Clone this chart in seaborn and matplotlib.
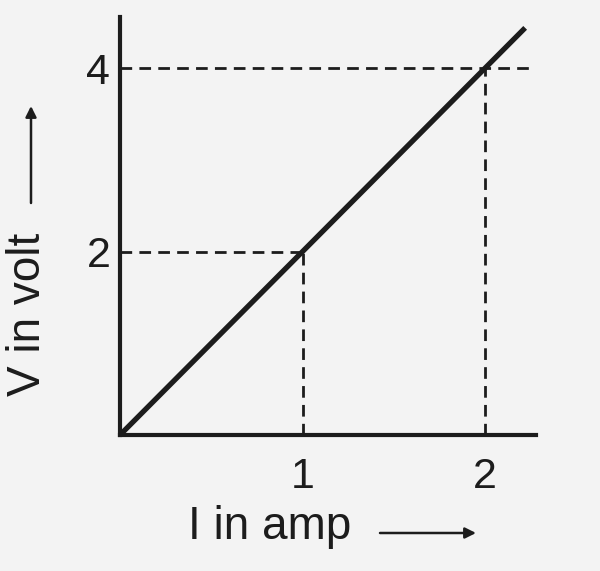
import matplotlib
matplotlib.use("Agg")
import matplotlib.pyplot as plt
import seaborn as sns
import pandas as pd

# ---- data ----
current_amp = [0, 1, 2, 2.22]
voltage_volt = [0, 2, 4, 4.44]
marked_I = [1, 2]
marked_V = [2, 4]
x_ticks = [1, 2]
x_tick_labels = ["1", "2"]
y_ticks = [2, 4]
y_tick_labels = ["2", "4"]
x_label = "I in amp"
y_label = "V in volt"

sns.set_theme(style="white")
plt.rcParams["font.family"] = ["Liberation Sans", "DejaVu Sans"]

W, H = 600, 571
fig = plt.figure(figsize=(W / 100, H / 100), dpi=100, facecolor="#f3f3f3")
ax = fig.add_axes([0, 0, 1, 1])
ax.set_facecolor("none")

# pixel mapping: x=0 at px 120, 182.5 px/unit ; y=0 at px 435 (from top), 91.7 px/unit
x0, sx = 120, 182.5
y0, sy = 435, 91.7
ax.set_xlim(-x0 / sx, (W - x0) / sx)
ax.set_ylim(-(H - y0) / sy, y0 / sy)

df = pd.DataFrame({"I": current_amp, "V": voltage_volt})
sns.lineplot(data=df, x="I", y="V", ax=ax, color="#1c1c1c", lw=3.8,
             solid_capstyle="butt", zorder=5)

dash = dict(color="#1c1c1c", lw=2.0, dashes=(4.2, 2.6), zorder=4)
h_ext = [marked_I[0], 2.25]
for xi, yi, xe in zip(marked_I, marked_V, h_ext):
    ax.plot([0, xe], [yi, yi], **dash)
    ax.plot([xi, xi], [0, yi], **dash)

for s in ["top", "right"]:
    ax.spines[s].set_visible(False)
for s in ["left", "bottom"]:
    ax.spines[s].set_position(("data", 0))
    ax.spines[s].set_color("#1c1c1c")
    ax.spines[s].set_linewidth(3.0)
    ax.spines[s].set_zorder(6)
ax.spines["left"].set_bounds(0, 4.56)
ax.spines["bottom"].set_bounds(0, 2.28)

ax.set_xticks(x_ticks)
ax.set_xticklabels(x_tick_labels)
ax.set_yticks(y_ticks)
ax.set_yticklabels(y_tick_labels)
ax.tick_params(axis="x", length=0, pad=16, labelsize=31, labelcolor="#1c1c1c")
ax.tick_params(axis="y", length=0, pad=7, labelsize=31, labelcolor="#1c1c1c")
ax.set_xlabel("")
ax.set_ylabel("")
ax.grid(False)

# axis titles with arrows
fig.text(270 / W, 1 - 527 / H, x_label, ha="center", va="center", fontsize=33,
         color="#1c1c1c")
ax.annotate("", xy=(476 / W, 1 - 533 / H), xytext=(380 / W, 1 - 533 / H),
            xycoords="figure fraction", textcoords="figure fraction",
            arrowprops=dict(arrowstyle="-|>", lw=1.8, color="#1c1c1c",
                            mutation_scale=16, shrinkA=0, shrinkB=0))
fig.text(28 / W, 1 - 314 / H, y_label, ha="center", va="center", fontsize=33,
         rotation=90, color="#1c1c1c")
ax.annotate("", xy=(31 / W, 1 - 106 / H), xytext=(31 / W, 1 - 203 / H),
            xycoords="figure fraction", textcoords="figure fraction",
            arrowprops=dict(arrowstyle="-|>", lw=1.8, color="#1c1c1c",
                            mutation_scale=16, shrinkA=0, shrinkB=0))

fig.savefig("out.png", dpi=100, facecolor=fig.get_facecolor())
